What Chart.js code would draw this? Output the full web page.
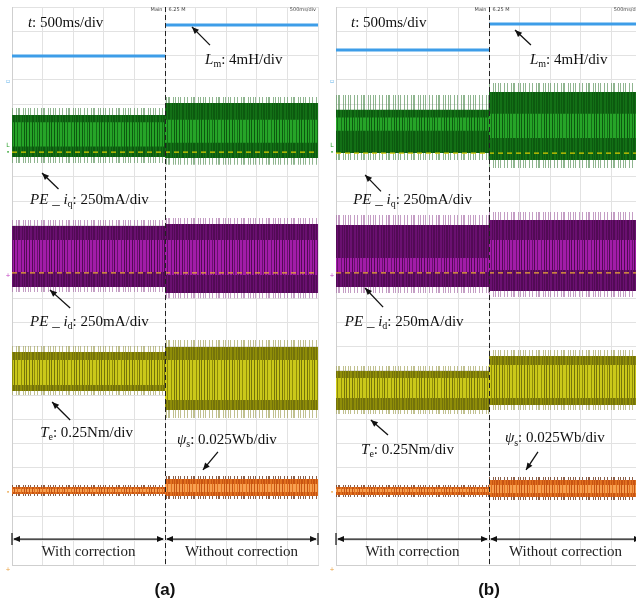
<!DOCTYPE html>
<html>
<head>
<meta charset="utf-8">
<script src="https://cdn.jsdelivr.net/npm/chart.js@4.4.1/dist/chart.umd.min.js"></script>
<style>
  body { margin: 0; background: #fff; }
  #wrap { position: relative; width: 636px; height: 601px; overflow: hidden; }
  #chartA { position: absolute; left: 0; top: 0; }
  #chartB { position: absolute; left: 320px; top: 0; }
</style>
</head>
<body>
<div id="wrap">
  <canvas id="chartA" width="320" height="601"></canvas>
  <canvas id="chartB" width="330" height="601"></canvas>
</div>
<script>
// time axis: 10 divisions, change of mode at the middle
const segments = ['With correction', 'Without correction'];
const segStart = [0, 5];
const segEnd = [5, 10];

// levels in screen divisions (0 = bottom, 23 = top); one entry per segment
// band entries are [top, bottom]
// ---- panel (a)
const aLm = [20.98, 22.26];
const aIqEnv = [[18.84, 16.57], [19.29, 16.50]];
const aIqMain = [[18.55, 16.82], [19.04, 16.78]];
const aIqCore = [[18.25, 17.25], [18.35, 17.40]];
const aIqRef = 17.02;
const aIdEnv = [[14.22, 11.25], [14.30, 11.00]];
const aIdMain = [[13.97, 11.46], [14.06, 11.21]];
const aIdCore = [[13.40, 12.08], [13.40, 11.95]];
const aIdRef = 12.04;
const aTeEnv = [[9.03, 7.01], [9.27, 6.06]];
const aTeMain = [[8.78, 7.17], [8.99, 6.39]];
const aTeCore = [[8.45, 7.42], [8.45, 6.80]];
const aPsiEnv = [[3.30, 2.84], [3.67, 2.72]];
const aPsiMain = [[3.22, 2.93], [3.54, 2.84]];
const aPsiCore = [[3.13, 3.01], [3.34, 3.01]];
// ---- panel (b)
const bLm = [21.23, 22.30];
const bIqEnv = [[19.37, 16.69], [19.87, 16.36]];
const bIqMain = [[18.76, 16.98], [19.50, 16.69]];
const bIqCore = [[18.45, 17.90], [18.60, 17.60]];
const bIqRef = 16.98;
const bIdEnv = [[14.43, 11.21], [14.55, 11.05]];
const bIdMain = [[14.01, 11.46], [14.22, 11.29]];
const bIdCore = [[12.65, 12.08], [13.40, 12.16]];
const bIdRef = 12.04;
const bTeEnv = [[8.20, 6.22], [8.86, 6.39]];
const bTeMain = [[8.00, 6.39], [8.61, 6.60]];
const bTeCore = [[7.71, 6.88], [8.24, 6.88]];
const bPsiEnv = [[3.30, 2.80], [3.63, 2.68]];
const bPsiMain = [[3.22, 2.89], [3.50, 2.80]];
const bPsiCore = [[3.13, 3.01], [3.30, 2.97]];

// trace colours: [spike halo, dark, mid, bright]
const green = ['rgba(95,150,95,0.7)', '#0c5a0f', '#137016', '#26a428'];
const purple = ['rgba(165,105,165,0.65)', '#520a55', '#6a1070', '#a21ca8'];
const yellow = ['rgba(165,165,95,0.7)', '#74730a', '#8f8d08', '#cac81a'];
const orange = ['rgba(100,40,10,0.75)', '#c85412', '#e0701e', '#f7a050'];
const serif = '"Liberation Serif", "DejaVu Serif", serif';

// streak masks for the persistence-style texture
const haloMask = '1001010001001000101100010';
const mainMask = '0110100110010110101100101';
const coreMask = '1011011010110101101110110';

function streaks(mask, on, off) {
  const c = document.createElement('canvas');
  c.width = mask.length;
  c.height = 1;
  const g = c.getContext('2d');
  for (let i = 0; i < mask.length; i++) {
    const col = mask[i] === '1' ? on : off;
    if (!col) continue;
    g.fillStyle = col;
    g.fillRect(i, 0, 1, 1);
  }
  return g.createPattern(c, 'repeat');
}

function band(levels, color, order) {
  return segments.map((s, i) => ({
    data: [{ x: segStart[i], y: levels[i][0] }, { x: segEnd[i], y: levels[i][0] }],
    fill: { value: levels[i][1] },
    backgroundColor: color,
    borderWidth: 0,
    pointRadius: 0,
    order: order
  }));
}

function trace(env, main, core, colors) {
  return [
    ...band(env, streaks(haloMask, colors[0], null), 5),
    ...band(main, streaks(mainMask, colors[1], colors[2]), 4),
    ...band(core, streaks(coreMask, colors[3], null), 3)
  ];
}

function stepLine(levels, color) {
  return segments.map((s, i) => ({
    data: [{ x: segStart[i], y: levels[i] }, { x: segEnd[i], y: levels[i] }],
    borderColor: color, borderWidth: 3, pointRadius: 0, fill: false, order: 1
  }));
}

function refLine(level, color) {
  return {
    data: [{ x: segStart[0], y: level }, { x: segEnd[1], y: level }],
    borderColor: color, borderWidth: 1.3, borderDash: [5, 4], pointRadius: 0, fill: false, order: 0
  };
}

function richText(ctx, x, y, runs, size) {
  let cx = x;
  ctx.fillStyle = '#111';
  ctx.textBaseline = 'middle';
  ctx.textAlign = 'left';
  runs.forEach(r => {
    const fs = r.sub ? Math.round(size * 0.66) : size;
    ctx.font = (r.it ? 'italic ' : '') + fs + 'px ' + serif;
    ctx.fillText(r.t, cx, y + (r.sub ? size * 0.32 : 0));
    cx += ctx.measureText(r.t).width;
  });
}

function arrowHead(ctx, x, y, ang) {
  const len = 7, w = 3;
  ctx.beginPath();
  ctx.moveTo(x, y);
  ctx.lineTo(x - len * Math.cos(ang) + w * Math.sin(ang), y - len * Math.sin(ang) - w * Math.cos(ang));
  ctx.lineTo(x - len * Math.cos(ang) - w * Math.sin(ang), y - len * Math.sin(ang) + w * Math.cos(ang));
  ctx.closePath();
  ctx.fill();
}

function arrow(ctx, hx, hy, tx, ty) {
  ctx.strokeStyle = '#111';
  ctx.fillStyle = '#111';
  ctx.lineWidth = 1.3;
  ctx.beginPath();
  ctx.moveTo(tx, ty);
  ctx.lineTo(hx, hy);
  ctx.stroke();
  arrowHead(ctx, hx, hy, Math.atan2(hy - ty, hx - tx));
}

const labelIq = [{ t: 'PE', it: true }, { t: ' _ ', it: true }, { t: 'i', it: true }, { t: 'q', sub: true }, { t: ': 250mA/div' }];
const labelId = [{ t: 'PE', it: true }, { t: ' _ ', it: true }, { t: 'i', it: true }, { t: 'd', sub: true }, { t: ': 250mA/div' }];
const labelT = [{ t: 't', it: true }, { t: ': 500ms/div' }];
const labelLm = [{ t: 'L', it: true }, { t: 'm', sub: true }, { t: ': 4mH/div' }];
const labelTe = [{ t: 'T', it: true }, { t: 'e', sub: true }, { t: ': 0.25Nm/div' }];
const labelPsi = [{ t: 'ψ', it: true }, { t: 's', sub: true }, { t: ': 0.025Wb/div' }];

// annotation layout in division units: text [x, y], arrow [headX, headY, tailX, tailY]
const notesA = [
  { runs: labelT, at: [0.52, 22.34] },
  { runs: labelLm, at: [6.31, 20.82], arrow: [5.88, 22.18, 6.47, 21.43] },
  { runs: labelIq, at: [0.59, 15.05], arrow: [0.98, 16.16, 1.52, 15.50] },
  { runs: labelId, at: [0.59, 10.02], arrow: [1.24, 11.34, 1.90, 10.59] },
  { runs: labelTe, at: [0.92, 5.44], arrow: [1.31, 6.72, 1.90, 5.98] },
  { runs: labelPsi, at: [5.39, 5.15], arrow: [6.24, 3.92, 6.73, 4.66] }
];
const notesB = [
  { runs: labelT, at: [0.49, 22.34] },
  { runs: labelLm, at: [6.34, 20.82], arrow: [5.85, 22.05, 6.37, 21.43] },
  { runs: labelIq, at: [0.56, 15.05], arrow: [0.95, 16.08, 1.47, 15.40] },
  { runs: labelId, at: [0.29, 10.02], arrow: [0.95, 11.42, 1.54, 10.63] },
  { runs: labelTe, at: [0.82, 4.74], arrow: [1.14, 5.98, 1.70, 5.36] },
  { runs: labelPsi, at: [5.52, 5.23], arrow: [6.21, 3.92, 6.60, 4.66] }
];
const spanLevel = 1.07;
const spanTextLevel = 0.54;

function scopePlugin(notes, caption, markers) {
  return {
    id: 'scope',
    afterDatasetsDraw(chart) {
      const ctx = chart.ctx;
      const sx = chart.scales.x, sy = chart.scales.y;
      const area = chart.chartArea;
      ctx.save();
      // mode change marker
      const mx = Math.round(sx.getPixelForValue(segEnd[0])) + 0.5;
      ctx.strokeStyle = '#222';
      ctx.lineWidth = 1;
      ctx.setLineDash([5, 3]);
      ctx.beginPath();
      ctx.moveTo(mx, area.top);
      ctx.lineTo(mx, area.bottom);
      ctx.stroke();
      ctx.setLineDash([]);
      // scope header
      ctx.fillStyle = '#444';
      ctx.font = '5px "DejaVu Sans", sans-serif';
      ctx.textBaseline = 'middle';
      ctx.textAlign = 'right';
      ctx.fillText('Main', mx - 3, area.top + 3);
      ctx.textAlign = 'left';
      ctx.fillText('6.25 M', mx + 3, area.top + 3);
      ctx.textAlign = 'right';
      ctx.fillText('500ms/div', area.right - 2, area.top + 3);
      // annotations
      notes.forEach(n => {
        richText(ctx, sx.getPixelForValue(n.at[0]), sy.getPixelForValue(n.at[1]), n.runs, 15);
        if (n.arrow) {
          arrow(ctx, sx.getPixelForValue(n.arrow[0]), sy.getPixelForValue(n.arrow[1]),
            sx.getPixelForValue(n.arrow[2]), sy.getPixelForValue(n.arrow[3]));
        }
      });
      // segment spans
      const yy = sy.getPixelForValue(spanLevel);
      ctx.strokeStyle = '#111';
      ctx.lineWidth = 1.2;
      segments.forEach((s, i) => {
        const x0 = sx.getPixelForValue(segStart[i]);
        const x1 = sx.getPixelForValue(segEnd[i]);
        ctx.fillStyle = '#111';
        ctx.beginPath();
        ctx.moveTo(x0 + 2, yy);
        ctx.lineTo(x1 - 2, yy);
        ctx.stroke();
        arrowHead(ctx, x0 + 1, yy, Math.PI);
        arrowHead(ctx, x1 - 1, yy, 0);
        ctx.font = '15px ' + serif;
        ctx.textAlign = 'center';
        ctx.fillStyle = '#222';
        ctx.fillText(s, (x0 + x1) / 2, sy.getPixelForValue(spanTextLevel));
      });
      [segStart[0], segEnd[1]].forEach(v => {
        const x = sx.getPixelForValue(v);
        ctx.beginPath();
        ctx.moveTo(x, yy - 6);
        ctx.lineTo(x, yy + 6);
        ctx.stroke();
      });
      // channel markers at the left edge
      ctx.textAlign = 'center';
      ctx.font = '6px "DejaVu Sans", sans-serif';
      markers.forEach(m => {
        ctx.fillStyle = m.color;
        ctx.fillText(m.t, area.left - 4, sy.getPixelForValue(m.level));
      });
      // caption
      ctx.fillStyle = '#111';
      ctx.font = 'bold 17px "Liberation Sans", Arial, sans-serif';
      ctx.textAlign = 'center';
      ctx.fillText(caption, sx.getPixelForValue(segEnd[0]), area.bottom + 25);
      ctx.restore();
    }
  };
}

function makeScope(id, lm, iq, id_, te, psi, iqRef, idRef, padding, caption, markers, notes) {
  const datasets = [
    ...trace(iq[0], iq[1], iq[2], green),
    ...trace(id_[0], id_[1], id_[2], purple),
    ...trace(te[0], te[1], te[2], yellow),
    ...trace(psi[0], psi[1], psi[2], orange),
    ...stepLine(lm, '#3d9de8'),
    refLine(iqRef, '#d9cc00'),
    refLine(idRef, '#eeaa33')
  ];
  return new Chart(document.getElementById(id), {
    type: 'line',
    data: { datasets },
    options: {
      responsive: false,
      animation: false,
      devicePixelRatio: 1,
      layout: { padding },
      plugins: { legend: { display: false }, tooltip: { enabled: false } },
      scales: {
        x: {
          type: 'linear', min: 0, max: 10,
          ticks: { display: false, stepSize: 1 },
          grid: { color: '#e2e2e2', drawTicks: false },
          border: { color: '#cfcfcf' }
        },
        y: {
          type: 'linear', min: 0, max: 23,
          ticks: { display: false, stepSize: 1 },
          grid: { color: '#e2e2e2', drawTicks: false },
          border: { color: '#cfcfcf' }
        }
      }
    },
    plugins: [scopePlugin(notes, caption, markers)]
  });
}

const markers = [
  { t: '▫', level: 19.95, color: '#5aaee8' },
  { t: 'L', level: 17.3, color: '#2aa02a' },
  { t: '•', level: 17.0, color: '#2aa02a' },
  { t: '+', level: 11.95, color: '#c040c0' },
  { t: '•', level: 3.0, color: '#e8a040' },
  { t: '+', level: -0.2, color: '#e8a040' }
];

makeScope('chartA', aLm, [aIqEnv, aIqMain, aIqCore], [aIdEnv, aIdMain, aIdCore],
  [aTeEnv, aTeMain, aTeCore], [aPsiEnv, aPsiMain, aPsiCore], aIqRef, aIdRef,
  { left: 12, right: 2, top: 7, bottom: 36 }, '(a)', markers, notesA);
makeScope('chartB', bLm, [bIqEnv, bIqMain, bIqCore], [bIdEnv, bIdMain, bIdCore],
  [bTeEnv, bTeMain, bTeCore], [bPsiEnv, bPsiMain, bPsiCore], bIqRef, bIdRef,
  { left: 16, right: 8, top: 7, bottom: 36 }, '(b)', markers, notesB);
</script>
</body>
</html>
